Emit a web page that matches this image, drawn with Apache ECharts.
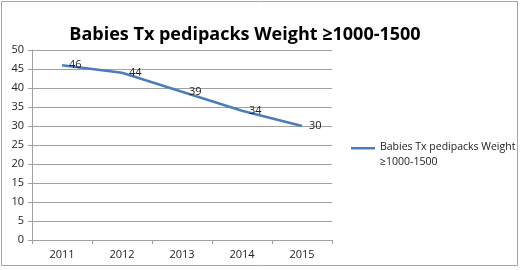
<!DOCTYPE html>
<html>
<head>
<meta charset="utf-8">
<script src="https://cdn.jsdelivr.net/npm/echarts@6/dist/echarts.min.js"></script>
<style>
  html, body { margin: 0; padding: 0; background: #fff; }
  #chart { width: 520px; height: 270px; }
</style>
</head>
<body>
<div id="chart"></div>
<script>
const years = ['2011', '2012', '2013', '2014', '2015']
const babies = [46, 44, 39, 34, 30]
const seriesName = 'Babies Tx pedipacks Weight ≥1000-1500'

const font = '"Open Sans", "Liberation Sans", sans-serif'

const chart = echarts.init(document.getElementById('chart'))
chart.setOption({
  animation: false,
  title: {
    text: 'Babies Tx pedipacks Weight ≥1000-1500',
    left: 240,
    top: 21,
    textAlign: 'center',
    textStyle: { fontFamily: font, fontSize: 18, fontWeight: 'bold', color: '#000' },
  },
  graphic: [
    {
      type: 'rect',
      shape: { x: 1.5, y: 1.5, width: 516, height: 264 },
      style: { fill: 'none', stroke: '#a6a6a6', lineWidth: 1 },
      silent: true,
    },
  ],
  legend: {
    left: 346,
    top: 135,
    orient: 'vertical',
    itemWidth: 24,
    itemHeight: 28,
    // line sits level with the first text line
    icon: 'path://M0,6 L24,6 L24,8.5 L0,8.5 Z M0,0 L0,0 M0,28 L0,28',
    formatter: () => 'Babies Tx pedipacks Weight\n≥1000-1500',
    textStyle: { fontFamily: font, fontSize: 10.5, color: '#222', lineHeight: 15 },
    data: [seriesName],
  },
  grid: { left: 32, right: 188, top: 50, bottom: 30 },
  xAxis: {
    type: 'category',
    data: years,
    boundaryGap: true,
    axisLine: { lineStyle: { color: '#a0a0a0' } },
    axisTick: { show: true, length: 4, inside: false, lineStyle: { color: '#a0a0a0' } },
    axisLabel: { fontFamily: font, fontSize: 11, color: '#222', margin: 9 },
  },
  yAxis: {
    type: 'value',
    min: 0,
    max: 50,
    interval: 5,
    axisLine: { show: true, lineStyle: { color: '#a0a0a0' } },
    axisTick: { show: true, length: 4, lineStyle: { color: '#a0a0a0' } },
    axisLabel: { fontFamily: font, fontSize: 11, color: '#222', margin: 8 },
    splitLine: { lineStyle: { color: '#a0a0a0' } },
  },
  series: [
    {
      name: seriesName,
      type: 'line',
      data: babies,
      symbol: 'circle',
      symbolSize: 0.1,
      showSymbol: true,
      lineStyle: { color: '#4a7ebb', width: 2.5 },
      itemStyle: { color: '#4a7ebb' },
      label: {
        show: true,
        position: 'right',
        distance: 7,
        fontFamily: font,
        fontSize: 11,
        color: '#222',
      },
    },
  ],
})
</script>
</body>
</html>
